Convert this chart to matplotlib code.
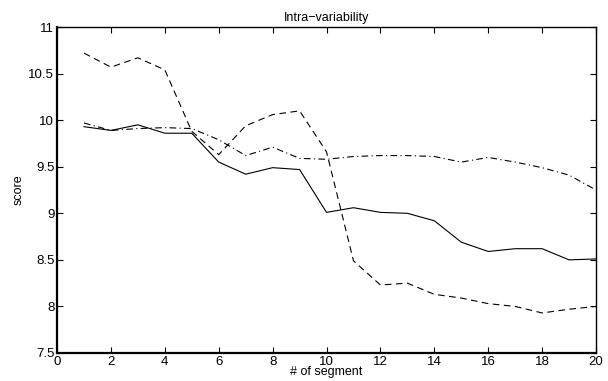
import numpy as np
from matplotlib import pyplot as plt

plt.rcParams['font.family'] = ['Liberation Sans', 'DejaVu Sans']

segments = list(range(1, 21))

score_solid = [9.93, 9.89, 9.95, 9.86, 9.86, 9.55, 9.42, 9.49, 9.47, 9.01,
               9.06, 9.01, 9.00, 8.92, 8.69, 8.59, 8.62, 8.62, 8.50, 8.51]
score_dashed = [10.72, 10.57, 10.67, 10.54, 9.88, 9.63, 9.94, 10.06, 10.10, 9.66,
                8.49, 8.23, 8.25, 8.13, 8.09, 8.03, 8.00, 7.93, 7.97, 8.00]
score_dashdot = [9.97, 9.89, 9.91, 9.92, 9.91, 9.79, 9.62, 9.71, 9.59, 9.58,
                 9.61, 9.62, 9.62, 9.61, 9.55, 9.60, 9.55, 9.49, 9.41, 9.25]

x_ticks = np.arange(0, 21, 2)
y_ticks = [7.5, 8, 8.5, 9, 9.5, 10, 10.5, 11]
y_tick_labels = ['7.5', '8', '8.5', '9', '9.5', '10', '10.5', '11']

fig = plt.figure(figsize=(6.08, 3.81), dpi=100)
ax = fig.add_axes([0.0938, 0.0735, 0.8865, 0.8555])

ax.plot(segments, score_solid, color='black', linestyle='-', linewidth=0.8)
ax.plot(segments, score_dashed, color='black', linestyle=(0, (6, 4)), linewidth=0.8)
ax.plot(segments, score_dashdot, color='black', linestyle=(0, (6, 3, 1, 3)), linewidth=0.8)

ax.set_xlim(0, 20)
ax.set_ylim(7.5, 11)
ax.set_xticks(x_ticks)
ax.set_yticks(y_ticks)
ax.set_yticklabels(y_tick_labels)

ax.tick_params(direction='in', top=True, right=True, length=4, width=0.8,
               labelsize=9.5, pad=2)
ax.spines['left'].set_linewidth(1.6)
ax.spines['bottom'].set_linewidth(1.6)
ax.spines['top'].set_linewidth(1.0)
ax.spines['right'].set_linewidth(1.0)

ax.set_title('Intra\u2212variability', fontsize=9, pad=4)
ax.set_xlabel('# of segment', fontsize=9, labelpad=-1)
ax.set_ylabel('score', fontsize=9, labelpad=3)

plt.savefig('out.png', dpi=100)
plt.close()
